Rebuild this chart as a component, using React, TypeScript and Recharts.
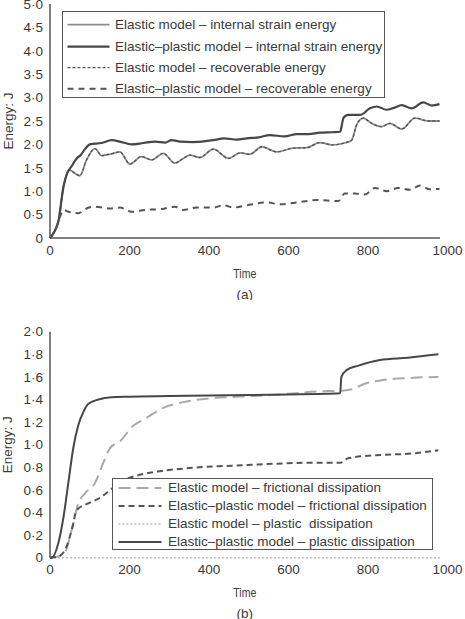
import React from 'react';
import { LineChart, Line, XAxis, YAxis, Legend, ReferenceLine } from 'recharts';

// ---------- Chart (a): energies ----------
const epInternalTime = [0, 10, 21, 34, 42, 55, 67, 78, 88, 100, 130, 155, 180, 205, 235, 264, 290, 306, 327, 360, 411, 438, 470, 495, 525, 553, 590, 621, 650, 679, 710, 730, 735, 738, 750, 780, 805, 822, 847, 865, 885, 910, 939, 960, 980];
const epInternalEnergy = [0, 0.12, 0.35, 1.1, 1.36, 1.54, 1.7, 1.78, 1.9, 2.0, 2.03, 2.09, 2.05, 2.0, 2.03, 2.06, 2.04, 2.09, 2.06, 2.05, 2.09, 2.13, 2.1, 2.13, 2.15, 2.2, 2.17, 2.22, 2.22, 2.25, 2.26, 2.27, 2.45, 2.56, 2.63, 2.63, 2.77, 2.81, 2.74, 2.78, 2.84, 2.77, 2.9, 2.83, 2.86];

const elInternalTime = [0, 10, 21, 34, 50, 63, 75, 92, 113, 130, 155, 176, 201, 230, 256, 285, 314, 335, 352, 377, 411, 449, 478, 503, 533, 570, 612, 646, 679, 709, 740, 759, 771, 788, 809, 834, 855, 885, 918, 952, 980];
const elInternalEnergy = [0, 0.12, 0.35, 1.1, 1.45, 1.38, 1.33, 1.67, 1.91, 1.76, 1.8, 1.84, 1.58, 1.74, 1.67, 1.81, 1.6, 1.7, 1.77, 1.72, 1.9, 1.7, 1.82, 1.79, 1.95, 1.84, 1.92, 1.93, 2.04, 1.99, 2.03, 2.09, 2.41, 2.56, 2.45, 2.38, 2.45, 2.33, 2.56, 2.5, 2.5];
// Elastic model: recoverable energy equals internal strain energy
const elRecoverableEnergy = elInternalEnergy;

const epRecoverableTime = [0, 10, 21, 34, 46, 71, 92, 113, 151, 176, 205, 239, 281, 314, 335, 369, 411, 436, 461, 495, 545, 579, 629, 671, 725, 742, 767, 792, 818, 847, 876, 906, 931, 956, 980];
const epRecoverableEnergy = [0, 0.12, 0.35, 0.6, 0.56, 0.53, 0.63, 0.67, 0.63, 0.65, 0.56, 0.6, 0.62, 0.67, 0.6, 0.65, 0.65, 0.7, 0.65, 0.7, 0.76, 0.72, 0.77, 0.81, 0.79, 0.95, 0.95, 0.93, 1.07, 1.0, 1.07, 1.03, 1.12, 1.04, 1.05];

// ---------- Chart (b): dissipation ----------
const epPlasticTime = [0, 4, 21, 34, 46, 59, 71, 84, 96, 122, 155, 200, 300, 400, 500, 600, 700, 730, 733, 746, 776, 830, 901, 977];
const epPlasticEnergy = [0, 0, 0.13, 0.36, 0.66, 0.98, 1.17, 1.29, 1.36, 1.4, 1.42, 1.425, 1.43, 1.435, 1.44, 1.445, 1.45, 1.455, 1.6, 1.66, 1.7, 1.75, 1.77, 1.8];

const elFrictionTime = [0, 20, 38, 55, 71, 88, 113, 134, 151, 176, 210, 239, 281, 340, 400, 511, 600, 667, 740, 759, 792, 834, 901, 977];
const elFrictionEnergy = [0, 0.01, 0.05, 0.25, 0.48, 0.57, 0.66, 0.84, 0.97, 1.03, 1.17, 1.23, 1.32, 1.38, 1.41, 1.43, 1.45, 1.47, 1.48, 1.49, 1.54, 1.57, 1.59, 1.6];

const epFrictionTime = [0, 20, 38, 55, 67, 96, 126, 155, 189, 222, 264, 340, 495, 662, 730, 750, 834, 901, 977];
const epFrictionEnergy = [0, 0.01, 0.07, 0.25, 0.42, 0.48, 0.53, 0.61, 0.69, 0.73, 0.76, 0.79, 0.82, 0.84, 0.84, 0.88, 0.91, 0.92, 0.95];

const elPlasticTime = [0, 981];
const elPlasticEnergy = [0, 0];

const timeTicks = [0, 200, 400, 600, 800, 1000];
const energyTicksA = [0, 0.5, 1, 1.5, 2, 2.5, 3, 3.5, 4, 4.5, 5];
const energyTicksB = [0, 0.2, 0.4, 0.6, 0.8, 1, 1.2, 1.4, 1.6, 1.8, 2];

const legendA = [
  'Elastic model – internal strain energy',
  'Elastic–plastic model – internal strain energy',
  'Elastic model – recoverable energy',
  'Elastic–plastic model – recoverable energy',
];
const legendB = [
  'Elastic model – frictional dissipation',
  'Elastic–plastic model – frictional dissipation',
  'Elastic model – plastic  dissipation',
  'Elastic–plastic model – plastic dissipation',
];

const zip = (ts: number[], vs: number[]) => ts.map((t, i) => ({ t, v: vs[i] }));

const FONT = '"Liberation Sans", Arial, sans-serif';
const TEXT = '#3a3a3a';
const AXIS = '#555';
const DARK = '#474747';
const GRAY = '#8e8e8e';
const LIGHT = '#a9a9a9';

const fmt = (v: number) => (v === 0 ? '0' : v.toFixed(1).replace('.', '·'));

type LineStyle = { stroke: string; width: number; dash?: string };

const stylesA: LineStyle[] = [
  { stroke: GRAY, width: 1.8 },
  { stroke: DARK, width: 2.2 },
  { stroke: '#555', width: 1.3, dash: '3 2' },
  { stroke: '#555', width: 2, dash: '6 5' },
];
const stylesB: LineStyle[] = [
  { stroke: LIGHT, width: 2, dash: '12 6' },
  { stroke: '#555', width: 2, dash: '6 4' },
  { stroke: '#bdbdbd', width: 1.5, dash: '2 2' },
  { stroke: DARK, width: 2 },
];

function LegendBox(props: { labels: string[]; styles: LineStyle[]; width: number; height: number; rowH: number; padTop: number; lineLeft: number; lineW: number; gap: number }) {
  const { labels, styles, width, height, rowH, padTop, lineLeft, lineW, gap } = props;
  return (
    <div style={{ width, height, boxSizing: 'border-box', border: `1.5px solid ${AXIS}`, background: '#fff', paddingTop: padTop, fontFamily: FONT, fontSize: 13.5, color: TEXT }}>
      {labels.map((l, i) => (
        <div key={i} style={{ height: rowH, display: 'flex', alignItems: 'center', whiteSpace: 'pre' }}>
          <svg width={lineLeft + lineW} height={rowH} style={{ flex: 'none' }}>
            <line x1={lineLeft - 1.5} x2={lineLeft + lineW - 1.5} y1={rowH / 2} y2={rowH / 2} stroke={styles[i].stroke} strokeWidth={styles[i].width} strokeDasharray={styles[i].dash} />
          </svg>
          <span style={{ marginLeft: gap, lineHeight: `${rowH}px` }}>{l}</span>
        </div>
      ))}
    </div>
  );
}

const xTitle = (tag: string) => (props: any) => {
  const vb = props.viewBox || {};
  const cx = vb.x + vb.width * 0.49;
  return (
    <g>
      <text x={cx} y={vb.y + 35} textAnchor="middle" dominantBaseline="central" fontFamily={FONT} fontSize={13} fill={TEXT} textLength={23} lengthAdjust="spacingAndGlyphs">Time</text>
      <text x={cx} y={vb.y + 56} textAnchor="middle" dominantBaseline="central" fontFamily={FONT} fontSize={13.5} fill={TEXT}>{tag}</text>
    </g>
  );
};

const yTitle = (props: any) => {
  const vb = props.viewBox || {};
  const cy = vb.y + vb.height / 2;
  const x = 8;
  return (
    <text x={x} y={cy} transform={`rotate(-90 ${x} ${cy})`} textAnchor="middle" dominantBaseline="central" fontFamily={FONT} fontSize={13.5} fill={TEXT}>Energy: J</text>
  );
};

const tickStyle = { fill: TEXT, fontSize: 13.5, fontFamily: FONT };

export default function App() {
  return (
    <div style={{ position: 'absolute', left: 0, top: 0, width: 465, height: 619, background: '#fff' }}>
      <LineChart width={465} height={300} margin={{ top: 4, right: 17.5, bottom: 0, left: 0 }}>
        <XAxis type="number" dataKey="t" domain={[0, 1000]} ticks={timeTicks} axisLine={false} tickLine={false} tickSize={5} tickMargin={2} height={62} tick={tickStyle} label={xTitle('(a)')} allowDuplicatedCategory={false} />
        <YAxis type="number" domain={[0, 5]} ticks={energyTicksA} tickFormatter={fmt} width={50} axisLine={{ stroke: AXIS, strokeWidth: 1.5 }} tickLine={false} tickSize={5} tickMargin={2} tick={tickStyle} label={yTitle} interval={0} />
        <ReferenceLine segment={[{ x: 0, y: 0 }, { x: 981, y: 0 }]} stroke={AXIS} strokeWidth={1.5} />
        <Line data={zip(elInternalTime, elInternalEnergy)} dataKey="v" type="monotone" stroke={stylesA[0].stroke} strokeWidth={stylesA[0].width} dot={false} isAnimationActive={false} />
        <Line data={zip(elInternalTime, elRecoverableEnergy)} dataKey="v" type="monotone" stroke={stylesA[2].stroke} strokeWidth={stylesA[2].width} strokeDasharray={stylesA[2].dash} dot={false} isAnimationActive={false} />
        <Line data={zip(epInternalTime, epInternalEnergy)} dataKey="v" type="monotone" stroke={stylesA[1].stroke} strokeWidth={stylesA[1].width} dot={false} isAnimationActive={false} />
        <Line data={zip(epRecoverableTime, epRecoverableEnergy)} dataKey="v" type="monotone" stroke={stylesA[3].stroke} strokeWidth={stylesA[3].width} strokeDasharray={stylesA[3].dash} dot={false} isAnimationActive={false} />
        <Legend layout="vertical" align="center" verticalAlign="middle" wrapperStyle={{ top: 11, left: 62, width: 323, height: 87 }}
          content={() => <LegendBox labels={legendA} styles={stylesA} width={323} height={87} rowH={21.3} padTop={2.3} lineLeft={6} lineW={42} gap={4} />} />
      </LineChart>
      <LineChart width={465} height={319} margin={{ top: 31.7, right: 17.5, bottom: 0, left: 0 }}>
        <XAxis type="number" dataKey="t" domain={[0, 1000]} ticks={timeTicks} axisLine={false} tickLine={false} tickSize={5} tickMargin={2} height={61.3} tick={tickStyle} label={xTitle('(b)')} allowDuplicatedCategory={false} />
        <YAxis type="number" domain={[0, 2]} ticks={energyTicksB} tickFormatter={fmt} width={50} axisLine={{ stroke: AXIS, strokeWidth: 1.5 }} tickLine={false} tickSize={5} tickMargin={2} tick={tickStyle} label={yTitle} interval={0} />
        <Line data={zip(elPlasticTime, elPlasticEnergy)} dataKey="v" type="linear" stroke={stylesB[2].stroke} strokeWidth={stylesB[2].width} strokeDasharray={stylesB[2].dash} dot={false} isAnimationActive={false} />
        <Line data={zip(elFrictionTime, elFrictionEnergy)} dataKey="v" type="monotone" stroke={stylesB[0].stroke} strokeWidth={stylesB[0].width} strokeDasharray={stylesB[0].dash} dot={false} isAnimationActive={false} />
        <Line data={zip(epFrictionTime, epFrictionEnergy)} dataKey="v" type="monotone" stroke={stylesB[1].stroke} strokeWidth={stylesB[1].width} strokeDasharray={stylesB[1].dash} dot={false} isAnimationActive={false} />
        <Line data={zip(epPlasticTime, epPlasticEnergy)} dataKey="v" type="monotone" stroke={stylesB[3].stroke} strokeWidth={stylesB[3].width} dot={false} isAnimationActive={false} />
        <Legend layout="vertical" align="center" verticalAlign="middle" wrapperStyle={{ top: 178, left: 112, width: 321, height: 72 }}
          content={() => <LegendBox labels={legendB} styles={stylesB} width={321} height={72} rowH={17.9} padTop={0.4} lineLeft={7} lineW={43} gap={5} />} />
      </LineChart>
    </div>
  );
}
